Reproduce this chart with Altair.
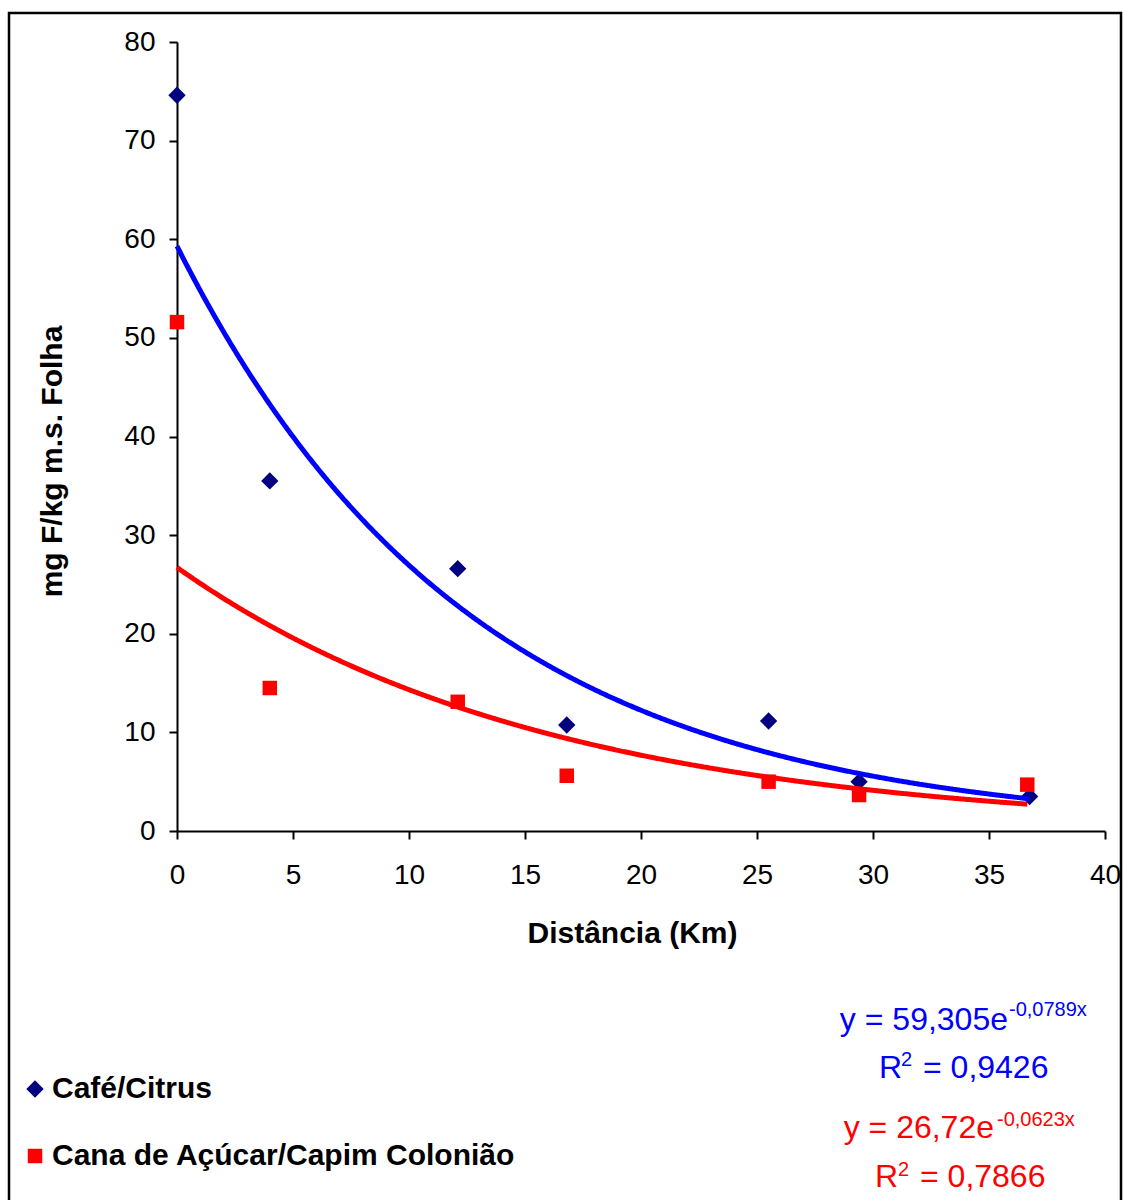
import altair as alt
import pandas as pd

# ---- data ----
SERIES = ["Café/Citrus", "Cana de Açúcar/Capim Colonião"]
DIST_CAFE = [0.0, 4.0, 12.1, 16.8, 25.5, 29.4, 36.75]
F_CAFE = [74.6, 35.5, 26.6, 10.75, 11.15, 5.0, 3.5]
DIST_CANA = [0.0, 4.0, 12.1, 16.8, 25.5, 29.4, 36.65]
F_CANA = [51.6, 14.5, 13.1, 5.6, 5.0, 3.65, 4.7]

# exponential trendlines as printed on the chart: y = A * exp(B * x)
TREND_A = [59.305, 26.72]
TREND_B = [-0.0789, -0.0623]
TREND_XMAX = [36.75, 36.65]

EQ_MAIN = ["y = 59,305e", "y = 26,72e"]
EQ_EXP = ["-0,0789x", "-0,0623x"]
R2_VAL = ["= 0,9426", "= 0,7866"]

X_TICKS = [0, 5, 10, 15, 20, 25, 30, 35, 40]
Y_TICKS = [0, 10, 20, 30, 40, 50, 60, 70, 80]

FONT = "Liberation Sans"
POINT_COLORS = ["#000080", "#FF0000"]
LINE_COLORS = ["#0000FF", "#FF0000"]

points = pd.DataFrame({
    "dist": DIST_CAFE + DIST_CANA,
    "val": F_CAFE + F_CANA,
    "series": [SERIES[0]] * len(DIST_CAFE) + [SERIES[1]] * len(DIST_CANA),
})

xscale = alt.Scale(domain=[0, 40], nice=False, zero=False)
yscale = alt.Scale(domain=[0, 80], nice=False, zero=False)

x_axis = alt.Axis(
    values=X_TICKS, grid=False, tickSize=8, tickWidth=2, domainWidth=2,
    domainColor="black", tickColor="black", labelColor="black",
    labelFont=FONT, labelFontSize=28, labelPadding=22, labelFlush=False,
    title="Distância (Km)", titleFont=FONT, titleFontSize=30,
    titleFontWeight="bold", titleColor="black",
    titleX=455, titleY=111, titleBaseline="alphabetic", titleAlign="center",
)
y_axis = alt.Axis(
    values=Y_TICKS, grid=False, tickSize=8, tickWidth=2, domainWidth=2,
    domainColor="black", tickColor="black", labelColor="black",
    labelFont=FONT, labelFontSize=28, labelPadding=14, labelFlush=False,
    title="mg F/kg m.s. Folha", titleFont=FONT, titleFontSize=30,
    titleFontWeight="bold", titleColor="black",
    titleX=-116, titleY=419, titleBaseline="alphabetic", titleAlign="center",
    titleAngle=270,
)

legend = alt.Legend(
    orient="none", legendX=-157, legendY=1032, padding=0,
    labelFont=FONT, labelFontSize=30, labelFontWeight="bold",
    labelColor="black", symbolSize=290, symbolStrokeWidth=0,
    labelOffset=2, rowPadding=37, labelLimit=600,
)

pts = alt.Chart(points).mark_point(filled=True, opacity=1).encode(
    x=alt.X("dist:Q", scale=xscale, axis=x_axis),
    y=alt.Y("val:Q", scale=yscale, axis=y_axis),
    color=alt.Color("series:N", title=None, legend=legend,
                    scale=alt.Scale(domain=SERIES, range=POINT_COLORS)),
    shape=alt.Shape("series:N", title=None, legend=legend,
                    scale=alt.Scale(domain=SERIES, range=["diamond", "square"])),
    size=alt.Size("series:N", legend=None,
                  scale=alt.Scale(domain=SERIES, range=[300, 210])),
)


def trend(i):
    return (
        alt.Chart(alt.sequence(0, TREND_XMAX[i] + 0.001, 0.05, as_="dist"))
        .transform_calculate(val=f"{TREND_A[i]} * exp({TREND_B[i]} * datum.dist)")
        .mark_line(color=LINE_COLORS[i], strokeWidth=5)
        .encode(
            x=alt.X("dist:Q", scale=xscale),
            y=alt.Y("val:Q", scale=yscale),
        )
    )


dummy = pd.DataFrame({"k": [0]})


def label(txt, x, y, size, color, align="left"):
    return alt.Chart(dummy).mark_text(
        text=txt, font=FONT, fontSize=size, color=color,
        align=align, baseline="alphabetic",
    ).encode(x=alt.value(x), y=alt.value(y))


texts = [
    label(EQ_MAIN[0], 831, 988, 32, LINE_COLORS[0], "right"),
    label(EQ_EXP[0], 832, 974, 20, LINE_COLORS[0]),
    label("R", 702, 1036, 32, LINE_COLORS[0]),
    label("2", 724, 1024, 20, LINE_COLORS[0]),
    label(R2_VAL[0], 746, 1036, 32, LINE_COLORS[0]),
    label(EQ_MAIN[1], 817, 1096, 32, LINE_COLORS[1], "right"),
    label(EQ_EXP[1], 820, 1084, 20, LINE_COLORS[1]),
    label("R", 698, 1145, 32, LINE_COLORS[1]),
    label("2", 721, 1134, 20, LINE_COLORS[1]),
    label(R2_VAL[1], 743, 1145, 32, LINE_COLORS[1]),
]

border = alt.Chart(dummy).mark_rect(
    fillOpacity=0, stroke="black", strokeWidth=2.5
).encode(
    x=alt.value(-168), x2=alt.value(944), y=alt.value(-29), y2=alt.value(1200)
)

chart = alt.layer(border, pts, trend(1), trend(0), *texts).properties(
    width=928, height=789,
    autosize=alt.AutoSizeParams(type="none"),
    padding={"left": 177, "top": 42, "right": 20, "bottom": 369},
).configure_view(strokeWidth=0)

chart.save("out.html", embed_options={"renderer": "svg", "actions": False})
